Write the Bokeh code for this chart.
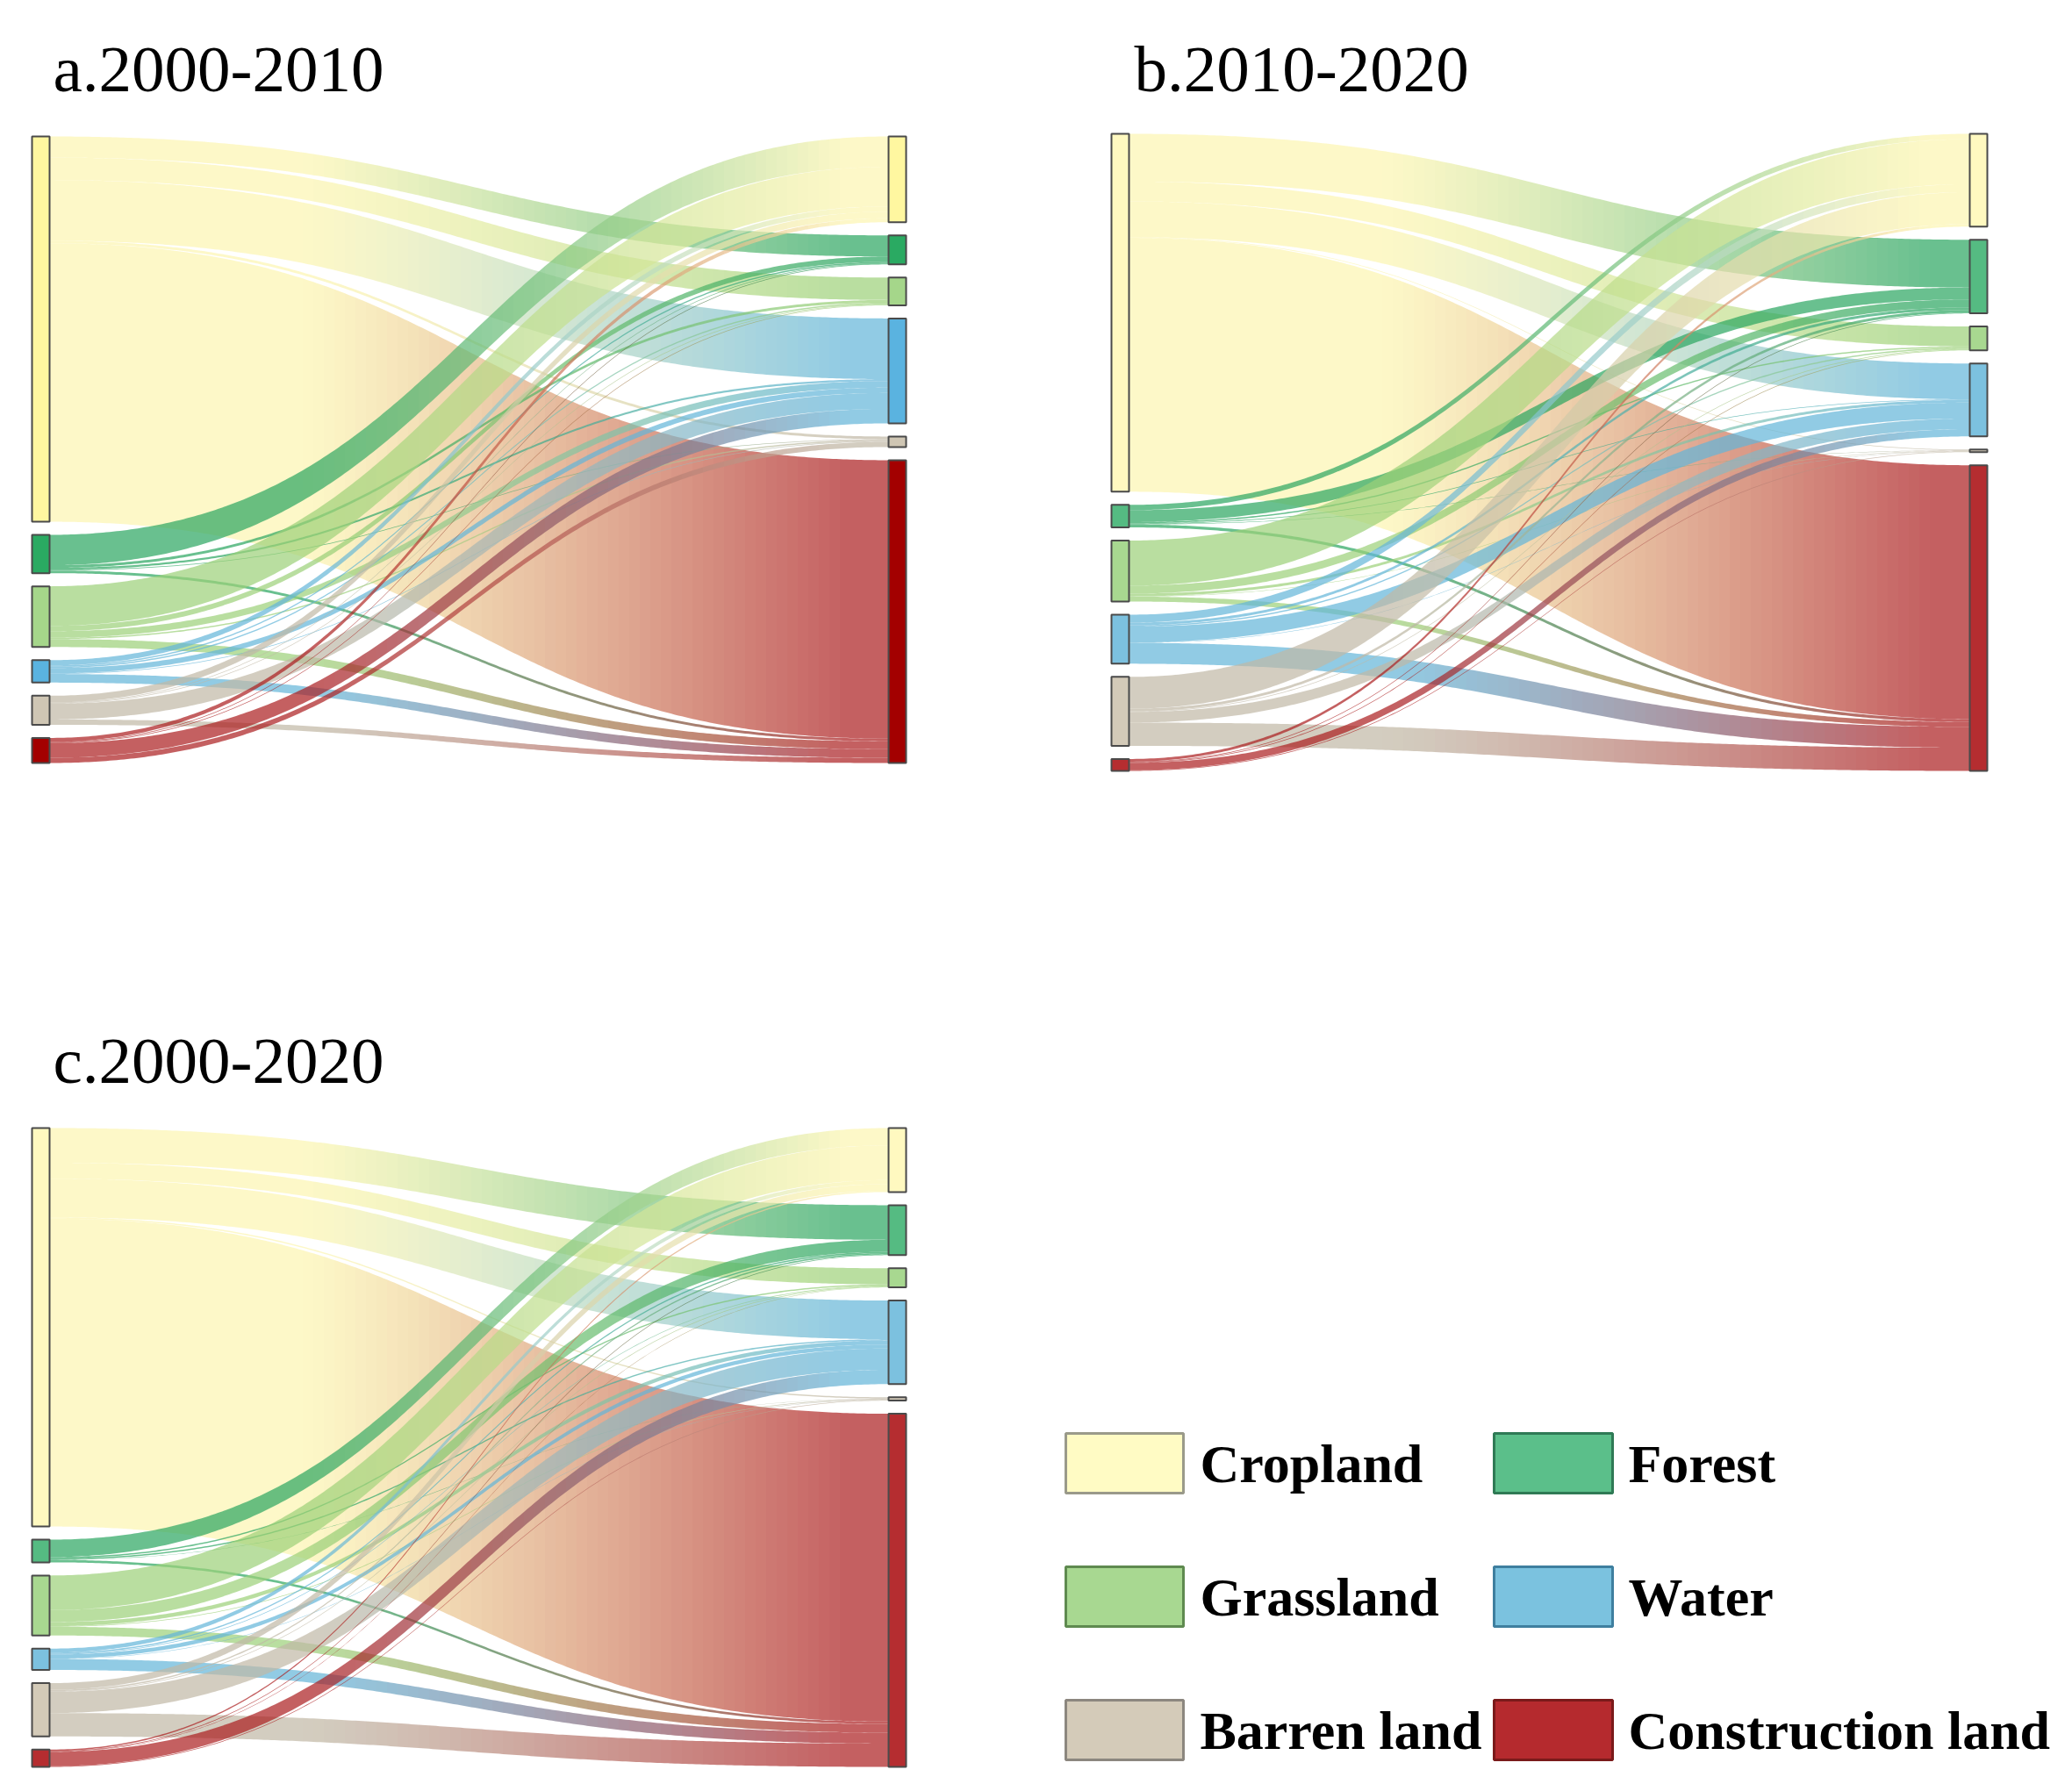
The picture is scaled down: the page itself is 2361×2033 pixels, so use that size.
import numpy as np
from bokeh.plotting import figure
from bokeh.models import Range1d
from bokeh.core.properties import value
from bokeh.embed import file_html
from bokeh.resources import INLINE

# ---------------- data ----------------
classes = ["Cropland", "Forest", "Grassland", "Water", "Barren land", "Construction land"]
panel_titles = ["a.2000-2010", "b.2010-2020", "c.2000-2020"]

# transfer matrices (rows: from, columns: to), order as in `classes`
flows_a = [
    [0, 16, 17, 46, 2, 211],
    [23, 0, 2, 1.5, 0.5, 2],
    [30, 4, 0, 5, 1, 6],
    [4, 1, 1, 4, 0.5, 6.5],
    [5, 0.5, 0.5, 12, 0, 4],
    [3, 0.5, 0.5, 11, 4, 0],
]
flows_b = [
    [0, 36, 15, 27, 0.5, 191.5],
    [4, 9, 1, 0.5, 0.3, 2.2],
    [34, 6, 0, 2, 0.3, 3.7],
    [6, 2, 1, 12, 0.3, 15.7],
    [24, 2, 0.5, 8, 0, 17.5],
    [2, 0.5, 0.5, 5.5, 0.5, 0],
]
flows_c = [
    [0, 26, 12, 29, 1, 231],
    [13, 0, 1, 1, 0.2, 1.8],
    [26, 9, 0, 3, 0.5, 6.5],
    [3, 1, 0.5, 3, 0.3, 8.2],
    [5, 1, 0.5, 16, 0, 17.5],
    [1, 0.5, 0.3, 10.7, 0.5, 0],
]

# ---------------- styles ----------------
node_colors_a = ["#fff7a0", "#2aaa62", "#a5d68a", "#5ab3e0", "#cfc6b4", "#a30000"]
node_colors_bc = ["#fff9c0", "#55bb82", "#a8d890", "#7cc1df", "#d3cab8", "#b52d30"]
link_colors = ["#fcf5b0", "#2aa560", "#9bd077", "#63b5d8", "#c0b8a5", "#ab1c1e"]
legend_colors = ["#fffbc4", "#5bbf8a", "#a8d891", "#7bc2df", "#d4cbb9", "#b52a2e"]
legend_borders = ["#9a9a8a", "#2f7a55", "#5f8a50", "#3f7f9f", "#8c877f", "#7a1a1a"]

W, H = 2345, 2015
p = figure(width=W, height=H, x_range=Range1d(0, W), y_range=Range1d(H, 0),
           output_backend="svg", toolbar_location=None,
           x_axis_location=None, y_axis_location=None, min_border=0,
           outline_line_color=None, background_fill_color="white",
           border_fill_color="white")
p.grid.visible = False

panels = [
    dict(flows=flows_a, xl=36, xr=1012, yt=155, yb=869, tx=60, ty=78, colors=node_colors_a),
    dict(flows=flows_b, xl=1266, xr=2244, yt=152, yb=878, tx=1292, ty=78, colors=node_colors_bc),
    dict(flows=flows_c, xl=36, xr=1012, yt=1285, yb=2013, tx=60, ty=1208, colors=node_colors_bc),
]
NODE_W = 20
PAD = 15
STEP = 12

tt = np.linspace(0, 1, 4001)
uu = 1.5 * tt * (1 - tt) + tt ** 3


def ease(frac):
    t = np.interp(frac, uu, tt)
    return 3 * t ** 2 - 2 * t ** 3


def grad(f):
    return float(np.clip((f - 0.3) / 0.65, 0, 1) ** 1.2)


def hex2rgb(h):
    h = h.lstrip("#")
    return np.array([int(h[i:i + 2], 16) for i in (0, 2, 4)], float)


def mix(c1, c2, f):
    c = hex2rgb(c1) * (1 - f) + hex2rgb(c2) * f
    return "#%02x%02x%02x" % tuple(int(round(v)) for v in c)


def column(tot, k, yt, yb):
    n = len(tot)
    pad = (yb - yt - tot.sum() * k) / (n - 1)
    ys, y = [], yt
    for t in tot:
        ys.append((y, y + t * k))
        y += t * k + pad
    return ys


px, py, pc = [], [], []
nodes = dict(left=[], right=[], top=[], bottom=[], color=[])
for pan in panels:
    F = np.array(pan["flows"], float)
    out_tot, in_tot = F.sum(1), F.sum(0)
    Hh = pan["yb"] - pan["yt"]
    k = (Hh - (len(classes) - 1) * PAD) / max(out_tot.sum(), in_tot.sum())
    L = column(out_tot, k, pan["yt"], pan["yb"])
    R = column(in_tot, k, pan["yt"], pan["yb"])
    x0 = pan["xl"] + NODE_W
    x1 = pan["xr"]
    s_off = [L[i][0] for i in range(len(classes))]
    t_off = [R[j][0] for j in range(len(classes))]
    sband, tband = {}, {}
    for i in range(len(classes)):
        for j in range(len(classes)):
            f = F[i, j]
            if f <= 0:
                continue
            sband[(i, j)] = (s_off[i], s_off[i] + f * k)
            s_off[i] += f * k
    for j in range(len(classes)):
        for i in range(len(classes)):
            f = F[i, j]
            if f <= 0:
                continue
            tband[(i, j)] = (t_off[j], t_off[j] + f * k)
            t_off[j] += f * k
    inner = np.arange(x0 + STEP, x1 - 4, STEP, dtype=float) + 0.5
    bounds = np.concatenate([[x0], inner, [x1]])
    for (i, j), (sy0, sy1) in sband.items():
        ty0, ty1 = tband[(i, j)]
        for a, b in zip(bounds[:-1], bounds[1:]):
            xs = np.linspace(a, b, 4)
            s = ease((xs - x0) / (x1 - x0))
            top = sy0 + (ty0 - sy0) * s
            bot = sy1 + (ty1 - sy1) * s
            px.append(list(np.concatenate([xs, xs[::-1]])))
            py.append(list(np.concatenate([top, bot[::-1]])))
            pc.append(mix(link_colors[i], link_colors[j], grad(((a + b) / 2 - x0) / (x1 - x0))))
    for idx in range(len(classes)):
        for (xa, ys) in ((pan["xl"], L[idx]), (pan["xr"], R[idx])):
            nodes["left"].append(xa)
            nodes["right"].append(xa + NODE_W)
            nodes["top"].append(ys[0])
            nodes["bottom"].append(max(ys[1], ys[0] + 1.5))
            nodes["color"].append(pan["colors"][idx])

p.patches(xs=px, ys=py, fill_color=pc, fill_alpha=0.7, line_color=None)
p.quad(left="left", right="right", top="top", bottom="bottom", fill_color="color",
       line_color="#4a4a4a", line_width=2, source=nodes)

# titles
p.text(x=[pan["tx"] for pan in panels], y=[pan["ty"] for pan in panels], text=panel_titles,
       text_font=value("Liberation Serif"), text_font_size=value("75px"),
       text_baseline="alphabetic", text_align="left", text_color="black")

# legend
col_box = [(1214, 1348), (1702, 1837)]
col_txt = [1367, 1855]
row_y = [1667, 1819, 1971]
lg = dict(left=[], right=[], top=[], bottom=[], fill=[], line=[])
lt = dict(x=[], y=[], t=[])
for n, name in enumerate(classes):
    r, c = n // 2, n % 2
    lg["left"].append(col_box[c][0]); lg["right"].append(col_box[c][1])
    lg["top"].append(row_y[r] - 34); lg["bottom"].append(row_y[r] + 34)
    lg["fill"].append(legend_colors[n]); lg["line"].append(legend_borders[n])
    lt["x"].append(col_txt[c]); lt["y"].append(row_y[r]); lt["t"].append(name)
p.quad(left="left", right="right", top="top", bottom="bottom", fill_color="fill",
       line_color="line", line_width=3, source=lg)
p.text(x=lt["x"], y=lt["y"], text=lt["t"], text_font=value("Liberation Serif"),
       text_font_style="bold", text_font_size=value("62px"), text_baseline="middle",
       text_align="left", text_color="black")

open("out.html", "w").write(file_html(p, INLINE))
